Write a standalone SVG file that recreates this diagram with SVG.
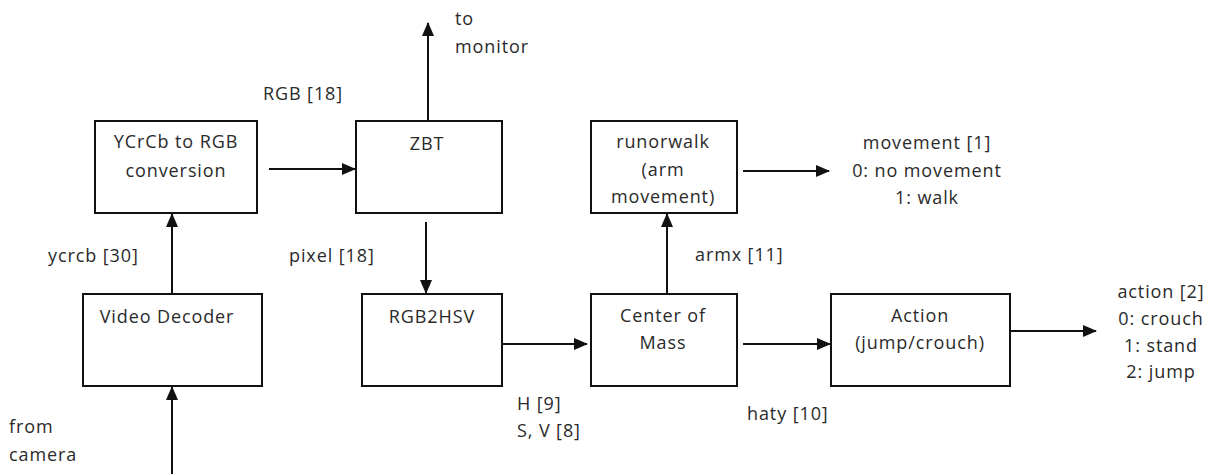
<svg xmlns="http://www.w3.org/2000/svg" width="1211" height="474" viewBox="0 0 1211 474">
<style>
.box{fill:#fff;stroke:#111;stroke-width:2}
.ln{stroke:#111;stroke-width:2;fill:none}
text{font-family:"Open Sans","Liberation Sans",sans-serif;font-size:18px;letter-spacing:0.9px;fill:#2a2a2a}
.c{text-anchor:middle}
</style>
<defs>
<marker id="ah" markerWidth="14" markerHeight="12" refX="13" refY="6" orient="auto" markerUnits="userSpaceOnUse">
<path d="M0,0 L14,6 L0,12 Z" fill="#111"/>
</marker>
</defs>
<rect width="1211" height="474" fill="#fff"/>
<g id="connectors">
<line class="ln" x1="269" y1="169" x2="355" y2="169" marker-end="url(#ah)"/>
<line class="ln" x1="428" y1="121" x2="428" y2="23" marker-end="url(#ah)"/>
<line class="ln" x1="426" y1="222" x2="426" y2="293" marker-end="url(#ah)"/>
<line class="ln" x1="172" y1="294" x2="172" y2="214" marker-end="url(#ah)"/>
<line class="ln" x1="172" y1="474" x2="172" y2="387" marker-end="url(#ah)"/>
<line class="ln" x1="502" y1="344" x2="587" y2="344" marker-end="url(#ah)"/>
<line class="ln" x1="667" y1="294" x2="667" y2="214" marker-end="url(#ah)"/>
<line class="ln" x1="743" y1="171" x2="829" y2="171" marker-end="url(#ah)"/>
<line class="ln" x1="743" y1="344" x2="830" y2="344" marker-end="url(#ah)"/>
<line class="ln" x1="1010" y1="331" x2="1096" y2="331" marker-end="url(#ah)"/>
</g>
<g id="labels">
<text x="263" y="100">RGB [18]</text>
<text x="455" y="25">to</text>
<text x="455" y="53">monitor</text>
<text x="48" y="262">ycrcb [30]</text>
<text x="289" y="262">pixel [18]</text>
<text x="695" y="261">armx [11]</text>
<text x="9" y="433">from</text>
<text x="9" y="461">camera</text>
<text x="517" y="410">H [9]</text>
<text x="517" y="437">S, V [8]</text>
<text x="747" y="420">haty [10]</text>
<text class="c" x="927" y="149">movement [1]</text>
<text class="c" x="927" y="177">0: no movement</text>
<text class="c" x="927" y="204">1: walk</text>
<text class="c" x="1161" y="298">action [2]</text>
<text class="c" x="1161" y="325">0: crouch</text>
<text class="c" x="1161" y="352">1: stand</text>
<text class="c" x="1161" y="378">2: jump</text>
</g>
<g id="ycrcb2rgb">
<rect class="box" x="95" y="121" width="162" height="92"/>
<text class="c" x="176" y="148">YCrCb to RGB</text>
<text class="c" x="176" y="177">conversion</text>
</g>
<g id="zbt">
<rect class="box" x="356" y="121" width="146" height="92"/>
<text class="c" x="427" y="150">ZBT</text>
</g>
<g id="runorwalk">
<rect class="box" x="591" y="121" width="146" height="92"/>
<text class="c" x="663" y="148">runorwalk</text>
<text class="c" x="663" y="176">(arm</text>
<text class="c" x="663" y="203">movement)</text>
</g>
<g id="videodecoder">
<rect class="box" x="83" y="294" width="179" height="92"/>
<text class="c" x="167" y="323">Video Decoder</text>
</g>
<g id="rgb2hsv">
<rect class="box" x="362" y="294" width="140" height="92"/>
<text class="c" x="432" y="323">RGB2HSV</text>
</g>
<g id="centerofmass">
<rect class="box" x="591" y="294" width="146" height="92"/>
<text class="c" x="663" y="322">Center of</text>
<text class="c" x="663" y="349">Mass</text>
</g>
<g id="action">
<rect class="box" x="831" y="294" width="179" height="92"/>
<text class="c" x="920" y="322">Action</text>
<text class="c" x="920" y="349">(jump/crouch)</text>
</g>
</svg>
